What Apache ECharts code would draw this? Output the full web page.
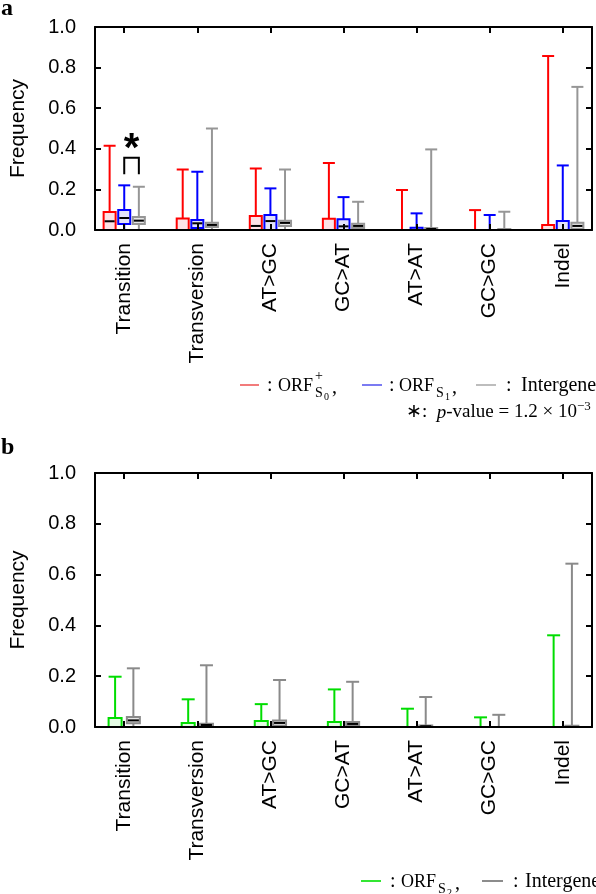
<!DOCTYPE html>
<html>
<head>
<meta charset="utf-8">
<script src="https://cdn.jsdelivr.net/npm/echarts@6/dist/echarts.min.js"></script>
<style>
  html, body { margin: 0; padding: 0; background: #fff; }
  #chart { width: 596px; height: 894px; }
</style>
</head>
<body>
<div id="chart"></div>
<script>
// mutation categories
const categories = ["Transition", "Transversion", "AT>GC", "GC>AT", "AT>AT", "GC>GC", "Indel"];
const yTicks = [0, 0.2, 0.4, 0.6, 0.8, 1.0];

// panel a: [min, q1, median, q3, max] per category
const orfS0 = [
    [0, 0, 0.043, 0.089, 0.415],
    [0, 0, 0, 0.057, 0.298],
    [0, 0, 0.02, 0.069, 0.303],
    [0, 0, 0, 0.056, 0.33],
    [0, 0, 0, 0, 0.197],
    [0, 0, 0, 0, 0.098],
    [0, 0, 0, 0.025, 0.857]
];
const orfS1 = [
    [0, 0.03, 0.059, 0.098, 0.22],
    [0, 0.01, 0.033, 0.049, 0.287],
    [0, 0, 0.044, 0.074, 0.205],
    [0, 0, 0.018, 0.053, 0.162],
    [0, 0, 0, 0.011, 0.082],
    [0, 0, 0, 0, 0.074],
    [0, 0, 0, 0.044, 0.318]
];
const intergeneA = [
    [0, 0.03, 0.046, 0.064, 0.213],
    [0, 0.015, 0.025, 0.036, 0.5],
    [0, 0.02, 0.035, 0.046, 0.298],
    [0, 0.01, 0.02, 0.031, 0.139],
    [0, 0, 0.005, 0.01, 0.397],
    [0, 0, 0, 0.005, 0.09],
    [0, 0.005, 0.02, 0.036, 0.705]
];
// significance bracket (Transition, ORF S1 vs Intergene): leg bottom, top
const sigBracket = [0.275, 0.356];

// panel b
const orfS2 = [
    [0, 0, 0, 0.035, 0.198],
    [0, 0, 0, 0.016, 0.109],
    [0, 0, 0, 0.024, 0.09],
    [0, 0, 0, 0.02, 0.148],
    [0, 0, 0, 0, 0.072],
    [0, 0, 0, 0, 0.038],
    [0, 0, 0, 0, 0.361]
];
const intergeneB = [
    [0, 0.015, 0.026, 0.039, 0.231],
    [0, 0.003, 0.008, 0.013, 0.243],
    [0, 0.005, 0.016, 0.026, 0.185],
    [0, 0.004, 0.012, 0.02, 0.178],
    [0, 0, 0.003, 0.006, 0.118],
    [0, 0, 0, 0, 0.048],
    [0, 0, 0, 0.005, 0.643]
];

(function () {
    let myChart = echarts.init(document.getElementById("chart"), null, { renderer: "canvas" })

    const sans = '"Liberation Sans", Arial, sans-serif'
    const serif = '"Liberation Serif", "Times New Roman", serif'
    const catPos = categories.map((c, i) => i + 1)

    // box + whiskers drawn through the axes
    function boxRender(boxW, color, fill) {
        return function (params, api) {
            const x = api.value(0)
            const lo = api.coord([x, api.value(1)])
            const q1 = api.coord([x, api.value(2)])
            const md = api.coord([x, api.value(3)])
            const q3 = api.coord([x, api.value(4)])
            const hi = api.coord([x, api.value(5)])
            const cx = hi[0], h = boxW / 2
            const s = { stroke: color, lineWidth: 2, fill: null }
            return {
                type: "group",
                children: [
                    { type: "line", shape: { x1: cx, y1: q3[1], x2: cx, y2: hi[1] }, style: s },
                    { type: "line", shape: { x1: cx - h, y1: hi[1], x2: cx + h, y2: hi[1] }, style: s },
                    { type: "line", shape: { x1: cx, y1: lo[1], x2: cx, y2: q1[1] }, style: s },
                    { type: "line", shape: { x1: cx - h, y1: lo[1], x2: cx + h, y2: lo[1] }, style: s },
                    { type: "rect", shape: { x: cx - h, y: q3[1], width: boxW, height: q1[1] - q3[1] },
                      style: { stroke: color, lineWidth: 2, fill: fill } },
                    { type: "line", shape: { x1: cx - h + 1, y1: md[1], x2: cx + h - 1, y2: md[1] },
                      style: { stroke: "#000", lineWidth: 2 } }
                ]
            }
        }
    }

    function boxSeries(name, values, offset, gridIdx, boxW, color, fill) {
        return {
            name: name,
            type: "custom",
            xAxisIndex: gridIdx * 2,
            yAxisIndex: gridIdx * 2,
            z: 2,
            clip: false,
            renderItem: boxRender(boxW, color, fill),
            data: values.map((v, i) => [i + 1 + offset].concat(v))
        }
    }

    function axesFor(gridIdx) {
        const line = { show: true, onZero: false, lineStyle: { color: "#000", width: 2 } }
        const tick = { show: true, inside: true, length: 6, lineStyle: { color: "#000", width: 2 }, customValues: catPos }
        return {
            x: [
                {
                    type: "value", gridIndex: gridIdx, position: "bottom", min: 0.6, max: 7.4, z: 5,
                    axisLine: line, axisTick: tick, splitLine: { show: false },
                    axisLabel: {
                        rotate: 90, margin: 13, color: "#000", fontFamily: sans, fontSize: 21,
                        customValues: catPos,
                        formatter: function (v) { return categories[Math.round(v) - 1] }
                    }
                },
                {
                    type: "value", gridIndex: gridIdx, position: "top", min: 0.6, max: 7.4, z: 5,
                    axisLine: line, axisTick: tick, splitLine: { show: false }, axisLabel: { show: false }
                }
            ],
            y: [
                {
                    type: "value", gridIndex: gridIdx, position: "left", min: 0, max: 1, interval: 0.2, z: 5,
                    name: "Frequency", nameLocation: "middle", nameGap: 66,
                    nameTextStyle: { color: "#000", fontFamily: sans, fontSize: 21 },
                    axisLine: line, splitLine: { show: false },
                    axisTick: { show: true, inside: true, length: 6, lineStyle: { color: "#000", width: 2 } },
                    axisLabel: {
                        margin: 19, color: "#000", fontFamily: sans, fontSize: 20,
                        customValues: yTicks,
                        formatter: function (v) { return v.toFixed(1) }
                    }
                },
                {
                    type: "value", gridIndex: gridIdx, position: "right", min: 0, max: 1, interval: 0.2, z: 5,
                    axisLine: line, splitLine: { show: false }, axisLabel: { show: false },
                    axisTick: { show: true, inside: true, length: 6, lineStyle: { color: "#000", width: 2 } }
                }
            ]
        }
    }

    const axA = axesFor(0), axB = axesFor(1)

    // legend pieces
    function txt(x, y, text, font, opts) {
        return Object.assign({
            type: "text", x: x, y: y,
            style: { text: text, font: font, fill: "#000", align: "left", verticalAlign: "middle" }
        }, opts || {})
    }
    function dash(x1, x2, y, color) {
        return { type: "line", shape: { x1: x1, y1: y, x2: x2, y2: y }, style: { stroke: color, lineWidth: 2 } }
    }
    const fCap = "18px " + serif, fLow = "20px " + serif, f14 = "14px " + serif, f10 = "10px " + serif

    let option = {
        animation: false,
        backgroundColor: "#fff",
        grid: [
            { left: 84, top: 27, width: 508, height: 203 },
            { left: 84, top: 473, width: 508, height: 254 }
        ],
        xAxis: axA.x.concat(axB.x),
        yAxis: axA.y.concat(axB.y),
        series: [
            boxSeries("ORF S0+", orfS0, -0.2, 0, 12, "#ff0000", "#fce3e6"),
            boxSeries("ORF S1", orfS1, 0, 0, 12, "#0000ff", "#e2e2fa"),
            boxSeries("Intergene", intergeneA, 0.2, 0, 12, "#969696", "#e6e6e6"),
            {
                name: "sig",
                type: "custom",
                xAxisIndex: 0,
                yAxisIndex: 0,
                z: 3,
                renderItem: function (params, api) {
                    const b1 = api.coord([api.value(0), api.value(2)])
                    const t1 = api.coord([api.value(0), api.value(3)])
                    const t2 = api.coord([api.value(1), api.value(3)])
                    const b2 = api.coord([api.value(1), api.value(2)])
                    return {
                        type: "group",
                        children: [
                            { type: "polyline", shape: { points: [b1, t1, t2, b2] },
                              style: { stroke: "#000", lineWidth: 2, fill: null } },
                            { type: "text", x: (t1[0] + t2[0]) / 2, y: t1[1] + 12,
                              style: { text: "*", font: "bold 40px " + sans, fill: "#000",
                                       align: "center", verticalAlign: "bottom" } }
                        ]
                    }
                },
                data: [[1, 1.2].concat(sigBracket)]
            },
            boxSeries("ORF S2", orfS2, -0.125, 1, 13, "#00dd00", "#e4fbe4"),
            boxSeries("Intergene", intergeneB, 0.125, 1, 13, "#8a8a8a", "#e6e6e6")
        ],
        graphic: [
            txt(1, 9, "a", "bold 24px " + serif),
            txt(1, 448, "b", "bold 24px " + serif),
            // legend a, line 1
            dash(240, 259, 385, "#f27b7b"),
            txt(267, 386, ":", fLow),
            txt(278, 386, "ORF", fCap),
            txt(315, 376, "+", f14),
            txt(315, 393, "S", f14),
            txt(324, 397, "0", f10),
            txt(332, 388, ",", fLow),
            dash(362, 382, 385, "#7b7bf2"),
            txt(389, 386, ":", fLow),
            txt(399, 386, "ORF", fCap),
            txt(436, 393, "S", f14),
            txt(445, 397, "1", f10),
            txt(452, 388, ",", fLow),
            dash(476, 496, 385, "#bdbdbd"),
            txt(506, 386, ":", fLow),
            txt(521, 386, "Intergene", fLow),
            // legend a, line 2
            {
                type: "text", x: 406, y: 411,
                style: {
                    text: "{n|∗:  }{i|p}{n|-value = 1.2 × 10}{s|−3}",
                    fill: "#000", align: "left", verticalAlign: "middle",
                    rich: {
                        n: { font: "19px " + serif, lineHeight: 22, verticalAlign: "bottom" },
                        i: { font: "italic 19px " + serif, lineHeight: 22, verticalAlign: "bottom" },
                        s: { font: "13px " + serif, lineHeight: 22, verticalAlign: "top" }
                    }
                }
            },
            // legend b
            dash(361, 381, 881, "#33e633"),
            txt(390, 882, ":", fLow),
            txt(401, 882, "ORF", fCap),
            txt(438, 889, "S", f14),
            txt(447, 893, "2", f10),
            txt(455, 884, ",", fLow),
            dash(482, 503, 881, "#8c8c8c"),
            txt(513, 882, ":", fLow),
            txt(525, 882, "Intergene", fLow)
        ]
    };
    myChart.setOption(option)
    window.addEventListener("resize", function () {
        myChart.resize()
    })
})();
</script>
</body>
</html>
